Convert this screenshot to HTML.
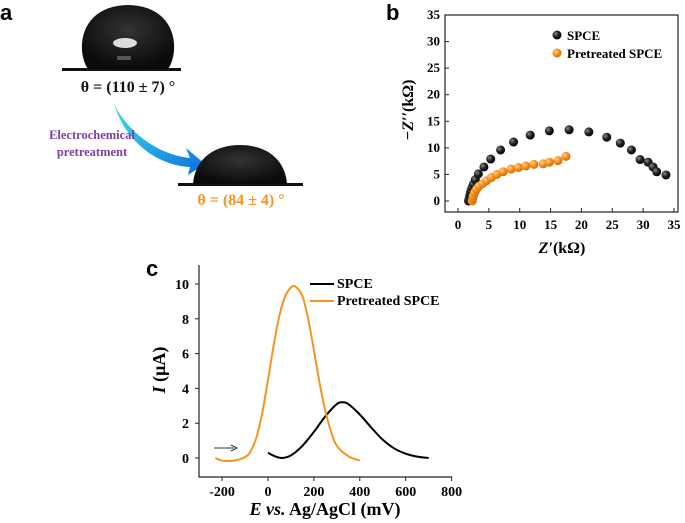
<!DOCTYPE html>
<html><head><meta charset="utf-8"><style>
body{margin:0;background:#fff}
svg{display:block;font-family:"Liberation Serif",serif;font-weight:bold}
</style></head><body>
<svg width="685" height="523" viewBox="0 0 685 523">
<defs>
<radialGradient id="gb" cx="0.35" cy="0.35" r="0.7"><stop offset="0" stop-color="#888"/><stop offset="0.5" stop-color="#222"/><stop offset="1" stop-color="#000"/></radialGradient>
<radialGradient id="go" cx="0.35" cy="0.35" r="0.7"><stop offset="0" stop-color="#ffd090"/><stop offset="0.5" stop-color="#f7931e"/><stop offset="1" stop-color="#d06a00"/></radialGradient>
<linearGradient id="ga" x1="0" y1="0" x2="1" y2="1"><stop offset="0" stop-color="#3fe0e8"/><stop offset="1" stop-color="#0a6ee0"/></linearGradient>
<radialGradient id="drop" cx="0.5" cy="0.4" r="0.6"><stop offset="0" stop-color="#333"/><stop offset="1" stop-color="#0a0a0a"/></radialGradient>
</defs>
<g>
<text x="0" y="20" font-family="Liberation Sans" font-size="22">a</text>
<rect x="62" y="68" width="119" height="3" fill="#111"/>
<path d="M88,69 C76,52 78,6 128,5 C178,6 180,52 168,69 Z" fill="url(#drop)"/>
<ellipse cx="125" cy="43" rx="12" ry="5" fill="#ddd"/>
<rect x="117" y="56" width="14" height="4" fill="#555"/>
<text x="128" y="92" font-size="16" text-anchor="middle" fill="#111">θ = (110 ± 7) °</text>
<path d="M114,104 C130,135 160,155 190,158 L186,148 L205,164 L188,175 L190,167 C155,165 125,140 114,104 Z" fill="url(#ga)"/>
<text x="92" y="139" font-size="12.5" text-anchor="middle" fill="#7b3fa8">Electrochemical</text>
<text x="92" y="156" font-size="12.5" text-anchor="middle" fill="#7b3fa8">pretreatment</text>
<rect x="178" y="183" width="125" height="3" fill="#111"/>
<path d="M193,184 C195,158 215,145 240,145 C265,145 285,158 287,184 Z" fill="url(#drop)"/>
<text x="241" y="205" font-size="16" text-anchor="middle" fill="#f7931e">θ = (84 ± 4) °</text>
</g>
<g id="pb">
<text x="386" y="20" font-family="Liberation Sans" font-size="22">b</text>
<rect x="445" y="15" width="233" height="197" fill="none" stroke="#222" stroke-width="1.2"/>
<text transform="translate(413,110) rotate(-90)" text-anchor="middle" font-size="16"><tspan font-style="italic">−Z′′</tspan>(kΩ)</text>
<text x="562" y="253" text-anchor="middle" font-size="16"><tspan font-style="italic">Z′</tspan>(kΩ)</text>
<circle cx="557" cy="35" r="4.5" fill="url(#gb)"/>
<text x="567" y="40" font-size="13">SPCE</text>
<circle cx="557" cy="53" r="4.5" fill="url(#go)"/>
<text x="567" y="58" font-size="13">Pretreated SPCE</text>
</g>
<g id="pc">
<text x="146" y="276" font-family="Liberation Sans" font-size="22">c</text>
<text transform="translate(165,370) rotate(-90)" text-anchor="middle" font-size="18"><tspan font-style="italic">I</tspan> (μA)</text>
<text x="325" y="515" text-anchor="middle" font-size="18"><tspan font-style="italic">E vs.</tspan> Ag/AgCl  (mV)</text>
<line x1="214" y1="448" x2="234" y2="448" stroke="#333"/>
<path d="M231,445 L237,448 L231,451" fill="none" stroke="#333"/>
<line x1="310" y1="284" x2="334" y2="284" stroke="#000" stroke-width="2"/>
<text x="337" y="288" font-size="14">SPCE</text>
<line x1="310" y1="301" x2="334" y2="301" stroke="#f7931e" stroke-width="2"/>
<text x="337" y="305" font-size="14">Pretreated SPCE</text>
</g>
</svg>
<script>
const nyqSpceX=[1.7,1.8,1.9,2.0,2.1,2.3,2.5,2.8,3.3,4.2,5.3,6.9,9.0,11.7,14.8,18.0,21.2,24.1,26.3,28.1,29.5,30.8,31.6,32.2,33.7];
const nyqSpceY=[0,0.5,1.0,1.5,2.0,2.6,3.2,4.0,5.1,6.4,7.9,9.6,11.1,12.4,13.2,13.4,13.0,12.0,10.9,9.6,7.8,7.3,6.4,5.5,4.9];
const nyqPreX=[2.3,2.4,2.5,2.7,3.0,3.4,4.0,4.6,5.4,6.3,7.3,8.6,9.8,11.0,12.3,13.8,14.8,16.2,17.5];
const nyqPreY=[0,0.5,1.0,1.6,2.2,2.8,3.3,3.8,4.4,5.0,5.5,6.0,6.3,6.6,6.9,7.0,7.3,7.6,8.4];
const bTicks=[0,5,10,15,20,25,30,35];
const cvE=[-230,-200,-150,-100,-75,-50,-25,0,25,50,75,100,120,150,175,200,225,250,275,300,350,400];
const cvPre=[0,-0.15,-0.15,0.05,0.4,1.2,2.6,4.5,6.5,8.2,9.3,9.8,9.85,9.3,8.0,6.2,4.3,2.7,1.5,0.7,0.1,-0.15];
const cvE2=[0,30,60,100,150,200,250,300,325,350,400,450,500,550,600,650,700];
const cvSpce=[0.3,0.1,0,0.15,0.7,1.5,2.4,3.1,3.2,3.1,2.5,1.75,1.05,0.55,0.25,0.08,0];
const cXTicks=[-200,0,200,400,600,800];
const cYTicks=[0,2,4,6,8,10];
const NS="http://www.w3.org/2000/svg";
function mk(p,t,a){const e=document.createElementNS(NS,t);for(const k in a)e.setAttribute(k,a[k]);p.appendChild(e);return e;}
const bx=v=>458+v*(674-458)/35, by=v=>201-v*(201-15)/35;
const pb=document.getElementById('pb');
bTicks.forEach(t=>{
 let l=mk(pb,'line',{x1:bx(t),x2:bx(t),y1:212,y2:208,stroke:'#222'});
 
 
 let tx=mk(pb,'text',{x:bx(t),y:229,'text-anchor':'middle','font-size':13});tx.textContent=t;
 
 
 let l2=mk(pb,'line',{x1:445,x2:449,y1:by(t),y2:by(t),stroke:'#222'});
 
 
 let ty=mk(pb,'text',{x:440,y:by(t)+4,'text-anchor':'end','font-size':13});ty.textContent=t;
 
 
});
nyqSpceX.forEach((v,i)=>{const c=mk(pb,'circle',{cx:bx(v),cy:by(nyqSpceY[i]),r:4.5,fill:'url(#gb)'});
 
 });
nyqPreX.forEach((v,i)=>{const c=mk(pb,'circle',{cx:bx(v),cy:by(nyqPreY[i]),r:4.5,fill:'url(#go)'});
 
 });
const cx=v=>268+v*0.2295, cy=v=>458-v*17.4;
const pc=document.getElementById('pc');
let ax=mk(pc,'path',{d:`M199,265 L199,477 L452,477`,fill:'none',stroke:'#222','stroke-width':1.2});


cXTicks.forEach(t=>{
 mk(pc,'line',{x1:cx(t),x2:cx(t),y1:477,y2:481,stroke:'#222'});
 let tx=mk(pc,'text',{x:cx(t),y:496,'text-anchor':'middle','font-size':14});tx.textContent=t;
 
 
});
cYTicks.forEach(t=>{
 mk(pc,'line',{x1:195,x2:199,y1:cy(t),y2:cy(t),stroke:'#222'});
 let ty=mk(pc,'text',{x:189,y:cy(t)+5,'text-anchor':'end','font-size':14});ty.textContent=t;
 
 
});
function smooth(xs,ys){const P=xs.map((x,i)=>[cx(x),cy(ys[i])]);let d=`M${P[0][0]},${P[0][1]}`;
 for(let i=0;i<P.length-1;i++){const p0=P[i-1]||P[i],p1=P[i],p2=P[i+1],p3=P[i+2]||p2;
 d+=` C${p1[0]+(p2[0]-p0[0])/6},${p1[1]+(p2[1]-p0[1])/6} ${p2[0]-(p3[0]-p1[0])/6},${p2[1]-(p3[1]-p1[1])/6} ${p2[0]},${p2[1]}`;}return d;}
let s1=mk(pc,'path',{d:smooth(cvE2,cvSpce),fill:'none',stroke:'#000','stroke-width':2});


let s2=mk(pc,'path',{d:smooth(cvE,cvPre),fill:'none',stroke:'#f7931e','stroke-width':2});


</script>
</body></html>
